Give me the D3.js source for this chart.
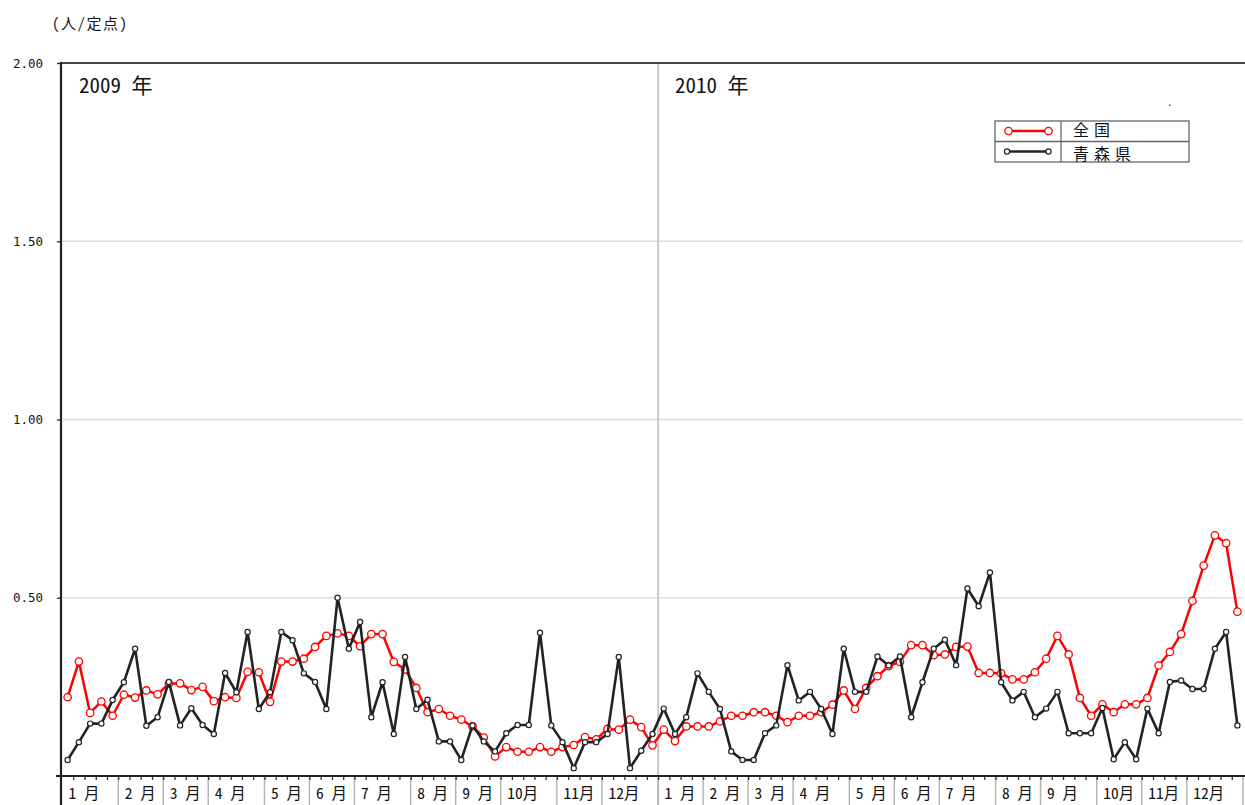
<!DOCTYPE html>
<html><head><meta charset="utf-8">
<script src="https://cdn.jsdelivr.net/npm/d3@7/dist/d3.min.js"></script>
<style>body{margin:0;background:#fff} svg{display:block}</style>
</head><body>
<svg id="chart" width="1245" height="805"></svg>
<script>
// ---- data ----
const yearLabels = ["2009 年", "2010 年"];
const weeksPerMonth2009 = [5,4,4,5,4,4,5,4,4,5,4,5];
const weeksPerMonth2010 = [4,4,4,5,4,4,5,4,5,4,4,5];
const monthLabels = ["1 月","2 月","3 月","4 月","5 月","6 月","7 月","8 月","9 月","10月","11月","12月"];
const yTicks = [0.5, 1.0, 1.5, 2.0];
const seriesNames = ["全国", "青森県"];
const unitLabel = "(人/定点)";

const national2009 = [0.221,0.321,0.177,0.209,0.169,0.228,0.220,0.240,0.229,0.259,
  0.260,0.241,0.250,0.210,0.221,0.219,0.292,0.291,0.208,0.321,
  0.321,0.329,0.362,0.393,0.400,0.393,0.364,0.398,0.398,0.320,
  0.299,0.247,0.179,0.188,0.169,0.158,0.139,0.108,0.055,0.081,
  0.068,0.068,0.081,0.068,0.081,0.087,0.109,0.103,0.132,0.130,
  0.158,0.137,0.086];
const national2010 = [0.130,0.098,0.139,0.139,0.139,0.153,0.169,0.169,0.179,0.179,
  0.169,0.151,0.169,0.169,0.179,0.200,0.240,0.188,0.247,0.280,
  0.308,0.320,0.367,0.367,0.339,0.341,0.362,0.363,0.289,0.289,
  0.288,0.271,0.271,0.291,0.329,0.393,0.341,0.219,0.169,0.201,
  0.179,0.201,0.201,0.219,0.310,0.348,0.398,0.491,0.590,0.675,
  0.653,0.461];
const aomori2009 = [0.045,0.095,0.147,0.147,0.213,0.263,0.357,0.141,0.165,0.264,
  0.142,0.190,0.143,0.118,0.289,0.235,0.404,0.188,0.235,0.404,
  0.381,0.288,0.264,0.188,0.500,0.357,0.432,0.165,0.263,0.118,
  0.334,0.188,0.214,0.097,0.097,0.045,0.142,0.097,0.069,0.120,
  0.143,0.143,0.402,0.142,0.095,0.022,0.095,0.095,0.118,0.334,
  0.022,0.071,0.118];
const aomori2010 = [0.189,0.118,0.165,0.288,0.236,0.188,0.069,0.045,0.045,0.120,
  0.142,0.311,0.212,0.236,0.188,0.118,0.357,0.236,0.236,0.335,
  0.310,0.335,0.165,0.263,0.357,0.382,0.311,0.526,0.476,0.571,
  0.263,0.212,0.236,0.165,0.189,0.236,0.120,0.120,0.120,0.191,
  0.047,0.095,0.047,0.189,0.120,0.264,0.268,0.244,0.244,0.357,
  0.404,0.142];

// ---- layout ----
const national = national2009.concat(national2010);
const aomori = aomori2009.concat(aomori2010);
const nWeeks = national.length;
const padL = 62, padR = 1243, padT = 63, baseY = 776, padB = 805;

const svg = d3.select("#chart");
const x = d3.scaleLinear().domain([0, nWeeks]).range([padL, padR]);
const y = d3.scaleLinear().domain([0, 2]).range([baseY, padT]);

const jp = "'Noto Sans Mono CJK JP','Noto Sans CJK JP','DejaVu Sans Mono',monospace";

// grid lines
svg.append("g").selectAll("line").data(yTicks.filter(d => d < 2)).join("line")
  .attr("x1", padL).attr("x2", padR)
  .attr("y1", d => y(d)).attr("y2", d => y(d))
  .attr("stroke", "#dcdcdc").attr("stroke-width", 1.5);

// month boundaries
let acc = 0;
const allMonths = [];
weeksPerMonth2009.forEach((w, i) => { allMonths.push({start: acc, end: acc + w, label: monthLabels[i]}); acc += w; });
const yearBreak = acc;
weeksPerMonth2010.forEach((w, i) => { allMonths.push({start: acc, end: acc + w, label: monthLabels[i]}); acc += w; });

// year divider
svg.append("line").attr("x1", x(yearBreak)).attr("x2", x(yearBreak))
  .attr("y1", padT).attr("y2", padB).attr("stroke", "#c8c8c8").attr("stroke-width", 2);

// month separators
svg.append("g").selectAll("line").data(allMonths.slice(1)).join("line")
  .attr("x1", d => x(d.start)).attr("x2", d => x(d.start))
  .attr("y1", baseY).attr("y2", padB)
  .attr("stroke", "#b4b4b4").attr("stroke-width", 1.5);
svg.append("line").attr("x1", padR).attr("x2", padR).attr("y1", baseY).attr("y2", padB)
  .attr("stroke", "#b4b4b4").attr("stroke-width", 1.5);

// month labels
svg.append("g").selectAll("text").data(allMonths).join("text")
  .attr("x", d => x(d.start) + 6.5).attr("y", 799)
  .attr("font-family", jp).attr("font-size", 15.5).attr("fill", "#111")
  .attr("xml:space", "preserve").style("white-space", "pre")
  .text(d => d.label);

// week ticks on x axis
const xAxis = d3.axisBottom(x).tickValues(d3.range(1, nWeeks)).tickSize(4).tickFormat("");
const gx = svg.append("g").attr("transform", `translate(0,${baseY})`).call(xAxis);
gx.select(".domain").remove();
gx.selectAll("line").attr("stroke", "#333").attr("stroke-width", 1.3);

// baseline
svg.append("line").attr("x1", 56).attr("x2", 1245).attr("y1", baseY).attr("y2", baseY)
  .attr("stroke", "#222").attr("stroke-width", 2.2);
// top border
svg.append("line").attr("x1", padL - 1).attr("x2", 1245).attr("y1", padT).attr("y2", padT)
  .attr("stroke", "#444").attr("stroke-width", 2);

// y axis
const yAxis = d3.axisLeft(y).tickValues(yTicks).tickFormat(d3.format(".2f")).tickSize(4).tickPadding(14);
const gy = svg.append("g").attr("transform", `translate(${padL - 1},0)`).call(yAxis);
gy.select(".domain").remove();
gy.selectAll("line").attr("stroke", "#222").attr("stroke-width", 1.3);
gy.selectAll("text").attr("font-family", "'DejaVu Sans Mono',monospace").attr("font-size", 12.5).attr("fill", "#111");
svg.append("line").attr("x1", padL - 1).attr("x2", padL - 1).attr("y1", padT - 1).attr("y2", padB)
  .attr("stroke", "#222").attr("stroke-width", 2.2);

// unit label
svg.append("text").attr("x", 52).attr("y", 29).attr("font-family", jp).attr("font-size", 15)
  .attr("letter-spacing", 1.5).attr("fill", "#111").text(unitLabel);

// year labels
svg.append("g").selectAll("text").data(yearLabels).join("text")
  .attr("x", (d, i) => x(i === 0 ? 0 : yearBreak) + 17).attr("y", 93)
  .attr("font-family", jp).attr("font-size", 21).attr("fill", "#111")
  .attr("xml:space", "preserve").style("white-space", "pre")
  .text(d => d);

// lines
const line = d3.line().x((d, i) => x(i + 0.5)).y(d => y(d));
svg.append("path").datum(national).attr("d", line).attr("fill", "none")
  .attr("stroke", "#ff0000").attr("stroke-width", 2.5).attr("stroke-linejoin", "round");
svg.append("g").selectAll("circle").data(national).join("circle")
  .attr("cx", (d, i) => x(i + 0.5)).attr("cy", d => y(d)).attr("r", 3.7)
  .attr("fill", "#fff").attr("stroke", "#ff0000").attr("stroke-width", 1.3);

svg.append("path").datum(aomori).attr("d", line).attr("fill", "none")
  .attr("stroke", "#222").attr("stroke-width", 2.6).attr("stroke-linejoin", "round");
svg.append("g").selectAll("circle").data(aomori).join("circle")
  .attr("cx", (d, i) => x(i + 0.5)).attr("cy", d => y(d)).attr("r", 2.6)
  .attr("fill", "#fff").attr("stroke", "#222").attr("stroke-width", 1.2);

// legend
const lg = svg.append("g");
lg.append("rect").attr("x", 995).attr("y", 121).attr("width", 194).attr("height", 41)
  .attr("fill", "#fff").attr("stroke", "#666").attr("stroke-width", 1.3);
lg.append("line").attr("x1", 995).attr("x2", 1189).attr("y1", 141.5).attr("y2", 141.5)
  .attr("stroke", "#666").attr("stroke-width", 1.3);
lg.append("line").attr("x1", 1061).attr("x2", 1061).attr("y1", 121).attr("y2", 162)
  .attr("stroke", "#666").attr("stroke-width", 1.3);
const legendStyles = [
  {color: "#ff0000", r: 3.7, sw: 1.3, x1: 1008.5, x2: 1048.5, ty: 136},
  {color: "#222", r: 2.6, sw: 1.2, x1: 1007, x2: 1048.5, ty: 159.5}
];
seriesNames.forEach((name, i) => {
  const s = legendStyles[i];
  const cy = 131 + i * 20.5;
  lg.append("line").attr("x1", s.x1).attr("x2", s.x2).attr("y1", cy).attr("y2", cy)
    .attr("stroke", s.color).attr("stroke-width", 2.5);
  [s.x1, s.x2].forEach(cx => lg.append("circle").attr("cx", cx).attr("cy", cy).attr("r", s.r)
    .attr("fill", "#fff").attr("stroke", s.color).attr("stroke-width", s.sw));
  lg.append("text").attr("x", 1073).attr("y", s.ty).attr("font-family", jp)
    .attr("font-size", 16).attr("letter-spacing", 5).attr("fill", "#111").text(name);
});
// stray dot
svg.append("rect").attr("x", 1169).attr("y", 104.5).attr("width", 1.5).attr("height", 1.5).attr("fill", "#555");
</script>
</body></html>
